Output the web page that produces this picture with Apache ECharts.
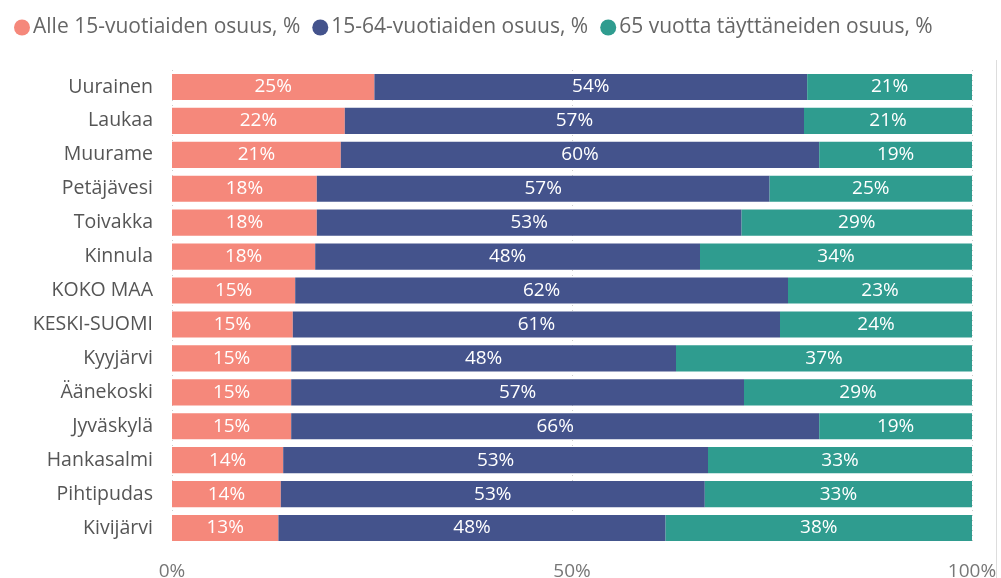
<!DOCTYPE html>
<html>
<head>
<meta charset="utf-8">
<script src="https://cdn.jsdelivr.net/npm/echarts@6/dist/echarts.min.js"></script>
<style>
html, body { margin: 0; padding: 0; background: #fff; }
#box { width: 1001px; height: 578px; }
</style>
</head>
<body>
<div id="box"></div>
<script>
// kunnat ylhäältä alas
const kunnat = ['Uurainen', 'Laukaa', 'Muurame', 'Petäjävesi', 'Toivakka', 'Kinnula', 'KOKO MAA',
  'KESKI-SUOMI', 'Kyyjärvi', 'Äänekoski', 'Jyväskylä', 'Hankasalmi', 'Pihtipudas', 'Kivijärvi']

const alle15 = [25.3, 21.6, 21.1, 18.1, 18.1, 17.9, 15.4, 15.1, 14.9, 14.9, 14.9, 13.9, 13.6, 13.3]
const ika15_64 = [54.1, 57.4, 59.8, 56.6, 53.1, 48.1, 61.6, 60.9, 48.1, 56.6, 66.0, 53.1, 53.0, 48.4]
const yli65 = [20.6, 21.0, 19.1, 25.3, 28.8, 34.0, 23.0, 24.0, 37.0, 28.5, 19.1, 33.0, 33.4, 38.3]

const sarjat = ['Alle 15-vuotiaiden osuus, %', '15-64-vuotiaiden osuus, %', '65 vuotta täyttäneiden osuus, %']
const ticks = ['0%', '50%', '100%']

const font = 'Open Sans'
const myChart = echarts.init(document.getElementById('box'))

const sarja = (name, data, color) => ({
  name: name,
  type: 'bar',
  stack: 'yht',
  data: data,
  barCategoryGap: '23%',
  itemStyle: { color: color },
  label: {
    show: true,
    position: 'inside',
    color: '#fff',
    fontFamily: font,
    fontSize: 19,
    formatter: p => Math.round(p.value) + '%'
  }
})

myChart.setOption({
  animation: false,
  textStyle: { fontFamily: font },
  legend: {
    left: 9,
    top: 12,
    icon: 'circle',
    itemWidth: 16,
    itemHeight: 16,
    itemGap: 12,
    textStyle: { color: '#666', fontSize: 21, fontFamily: font, padding: [0, 0, 0, -2] },
    data: sarjat
  },
  grid: { left: 172, right: 29, top: 70, bottom: 33, containLabel: false, outerBoundsMode: 'none' },
  xAxis: {
    type: 'value',
    min: 0,
    max: 100,
    interval: 50,
    axisLine: { show: false },
    axisTick: { show: false },
    splitLine: { show: true, lineStyle: { color: '#ccc', type: [1, 4] } },
    axisLabel: {
      color: '#777',
      fontSize: 19,
      margin: 17,
      fontFamily: font,
      formatter: v => ticks[v / 50]
    }
  },
  yAxis: {
    type: 'category',
    inverse: true,
    data: kunnat,
    axisLine: { show: false },
    axisTick: { show: false },
    axisLabel: { color: '#555', fontSize: 19.5, margin: 19, fontFamily: font }
  },
  graphic: [{
    type: 'rect',
    shape: { x: 996, y: 60, width: 1, height: 518 },
    style: { fill: '#ddd' }
  }],
  series: [
    sarja(sarjat[0], alle15, '#F5887B'),
    sarja(sarjat[1], ika15_64, '#44538C'),
    sarja(sarjat[2], yli65, '#2F9C8F')
  ]
})
</script>
</body>
</html>
